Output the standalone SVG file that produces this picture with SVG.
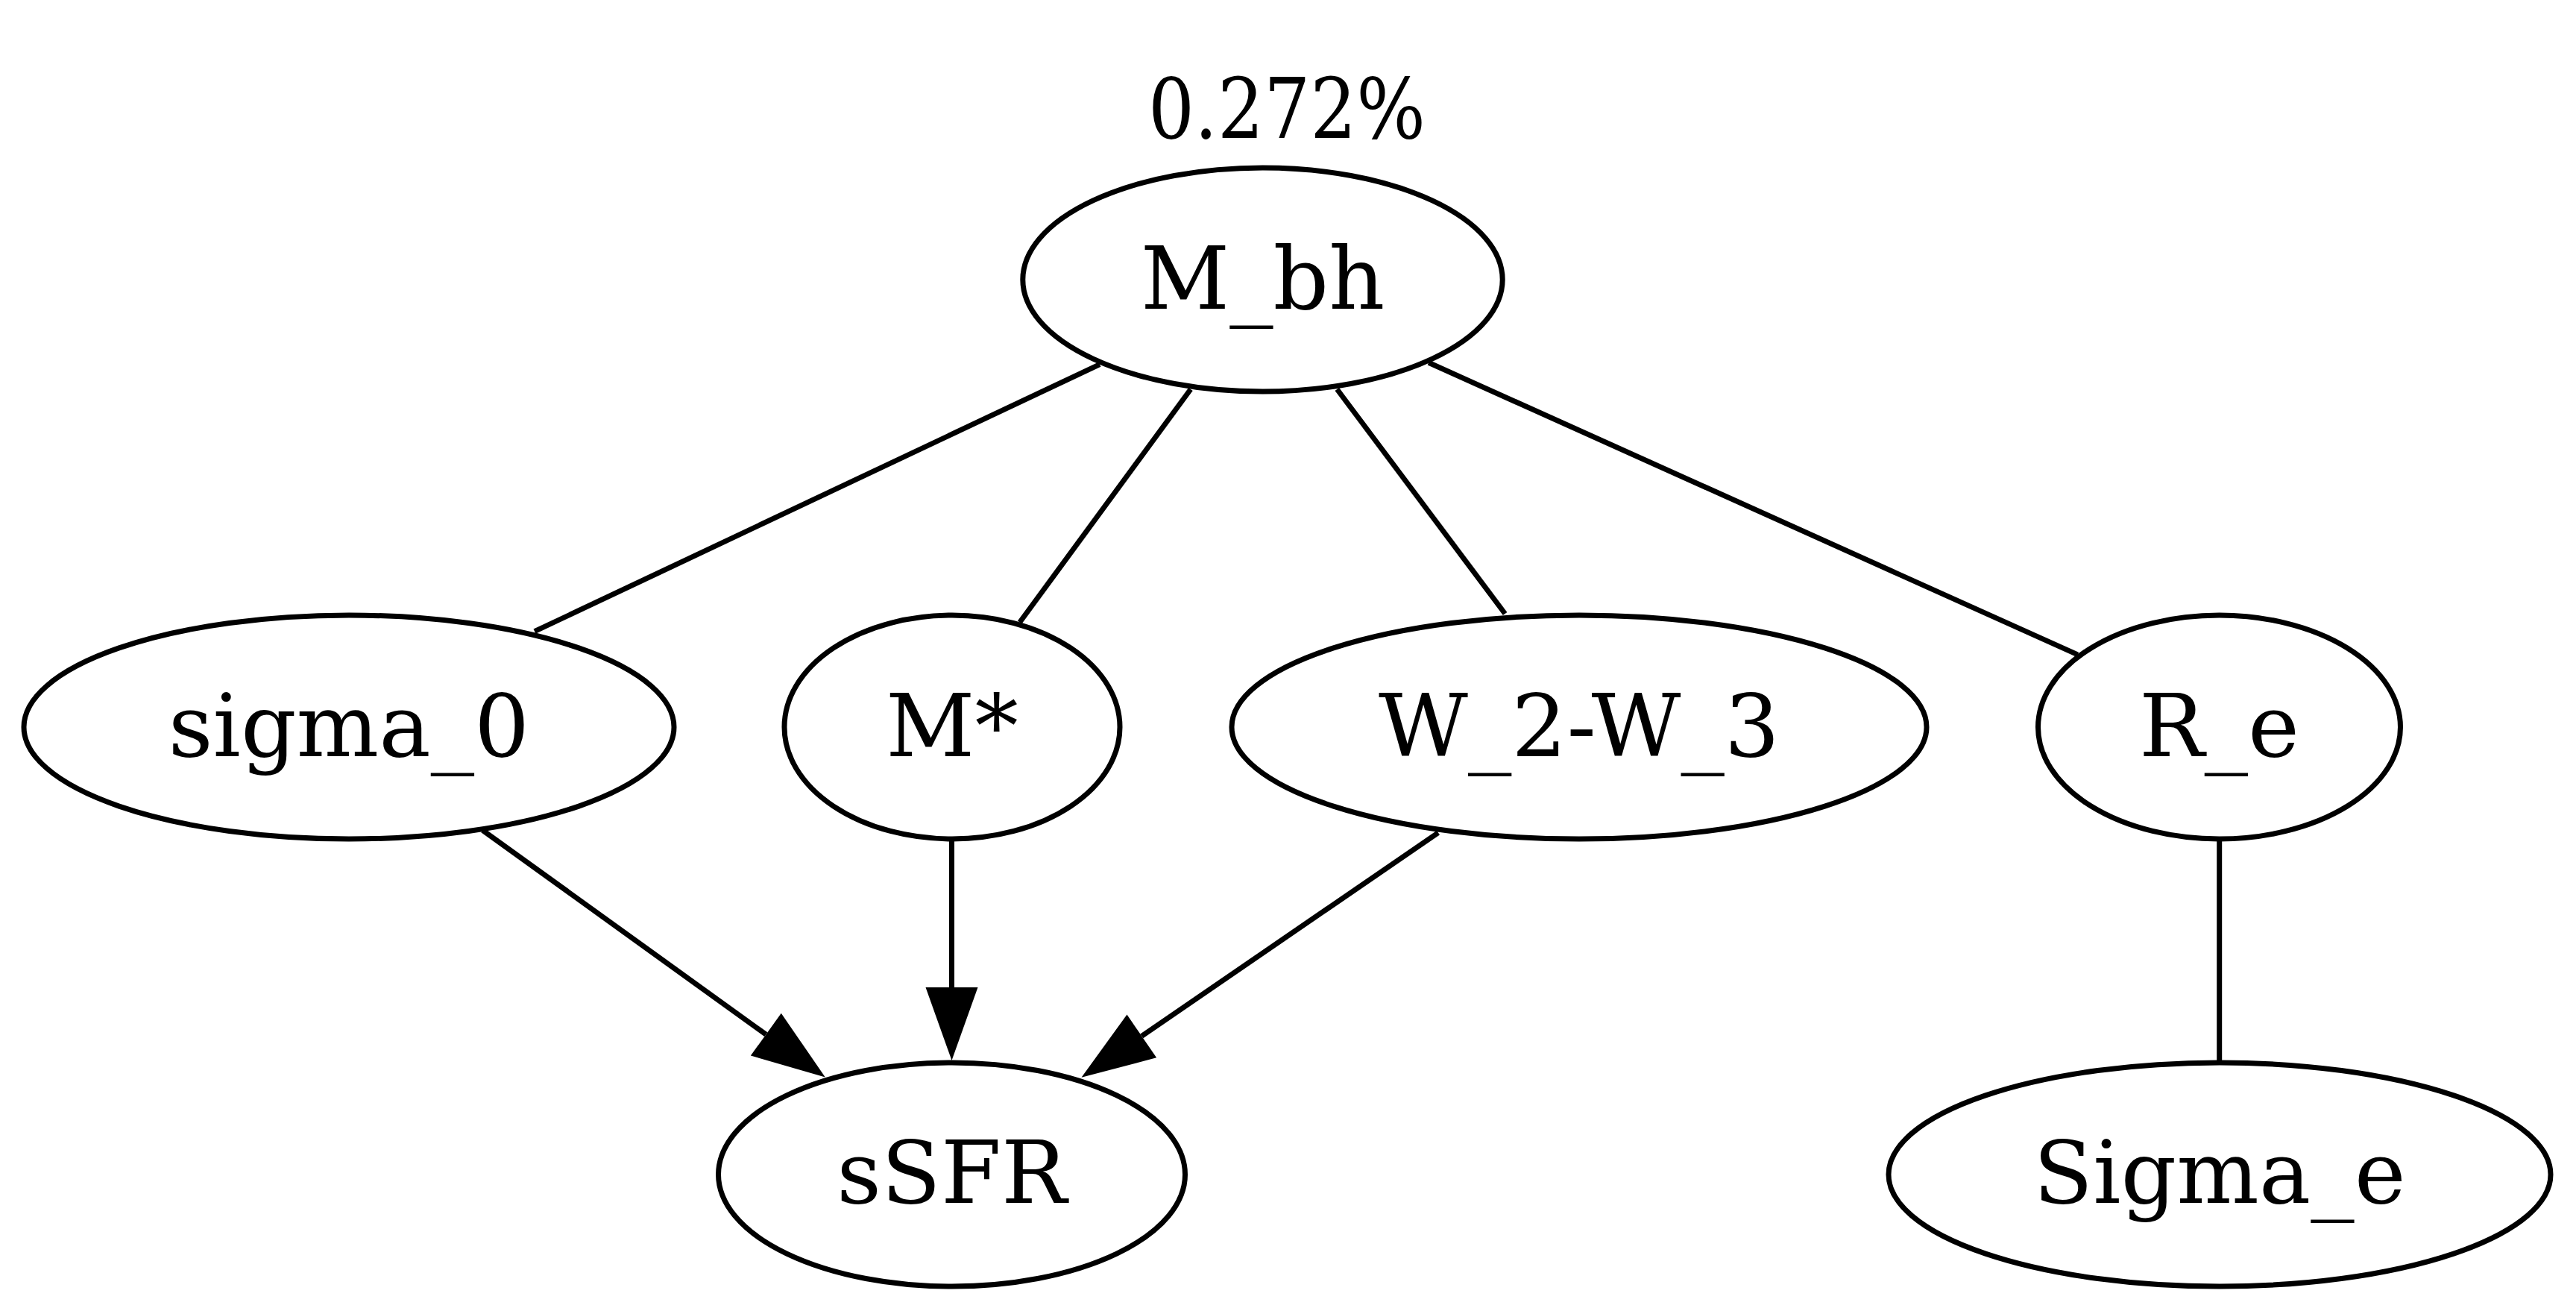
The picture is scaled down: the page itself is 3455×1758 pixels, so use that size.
<svg xmlns="http://www.w3.org/2000/svg" width="3455" height="1758" viewBox="0 0 3455 1758">
<style>
.node ellipse { fill: none; stroke: #000; stroke-width: 7; }
.node text, .xlabel { font-family: "DejaVu Serif", "Liberation Serif", serif; font-size: 116.67px; fill: #000; text-anchor: middle; }
.edges line { stroke: #000; stroke-width: 7; fill: none; }
.edges line.arrow { marker-end: url(#arrowhead); }
</style>
<defs>
<marker id="arrowhead" markerUnits="userSpaceOnUse" markerWidth="100" markerHeight="72" refX="0" refY="35" orient="auto" overflow="visible">
<path d="M0,0 L98,35 L0,70 Z" fill="#000" stroke="none"/>
</marker>
</defs>
<rect x="0" y="0" width="3455" height="1758" fill="#fff"/>
<g id="edges" class="edges">
<line x1="1475" y1="488.6" x2="717" y2="846.7"/>
<line x1="1596.9" y1="522" x2="1367.7" y2="834.5"/>
<line x1="1793.3" y1="522" x2="2018.6" y2="823"/>
<line x1="1916.1" y1="486.3" x2="2786.6" y2="877.9"/>
<line x1="2976.7" y1="1128" x2="2976.7" y2="1424"/>
<line class="arrow" x1="647.3" y1="1113.3" x2="1027.3" y2="1387.2"/>
<line class="arrow" x1="1276.5" y1="1128" x2="1276.5" y2="1324"/>
<line class="arrow" x1="1929" y1="1116.6" x2="1531.3" y2="1389.4"/>
</g>
<g id="node-M_bh" class="node">
<ellipse cx="1693.5" cy="375" rx="321.7" ry="150"/>
<text x="1693.5" y="414">M_bh</text>
</g>
<text class="xlabel" x="1540" y="185" style="font-size:112px;text-anchor:start" textLength="372" lengthAdjust="spacingAndGlyphs">0.272%</text>
<g id="node-sigma_0" class="node">
<ellipse cx="468" cy="975" rx="436" ry="150"/>
<text x="468" y="1013.5">sigma_0</text>
</g>
<g id="node-Mstar" class="node">
<ellipse cx="1277" cy="975" rx="225" ry="150"/>
<text x="1277" y="1013.5">M*</text>
</g>
<g id="node-W2W3" class="node">
<ellipse cx="2118" cy="975" rx="466" ry="150"/>
<text x="2118" y="1013.5">W_2-W_3</text>
</g>
<g id="node-R_e" class="node">
<ellipse cx="2976.5" cy="975" rx="243" ry="150"/>
<text x="2976.5" y="1013.5">R_e</text>
</g>
<g id="node-sSFR" class="node">
<ellipse cx="1276.5" cy="1575" rx="313" ry="150"/>
<text x="1276.5" y="1613">sSFR</text>
</g>
<g id="node-Sigma_e" class="node">
<ellipse cx="2977" cy="1575" rx="444" ry="150"/>
<text x="2977" y="1613">Sigma_e</text>
</g>
</svg>
